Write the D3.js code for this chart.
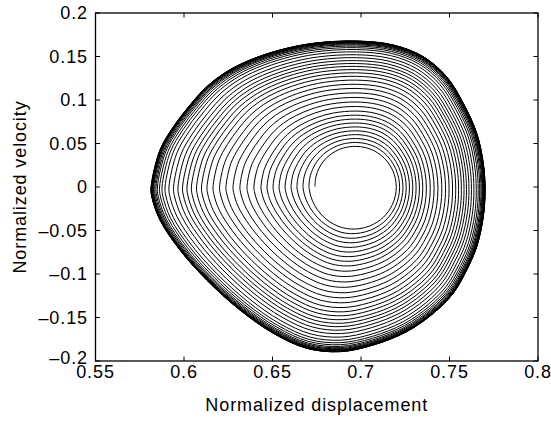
<!DOCTYPE html>
<html>
<head>
<meta charset="UTF-8">
<script src="https://d3js.org/d3.v7.min.js"></script>
<style>
  body { margin: 0; background: #fff; }
  svg text { font-family: "Liberation Sans", Arial, sans-serif; font-size: 18px; letter-spacing: 0.9px; fill: #000; }
</style>
</head>
<body>
<div id="chart"></div>
<script>
// axis ticks
const xTicks = [0.55, 0.6, 0.65, 0.7, 0.75, 0.8];
const xTickLabels = ["0.55", "0.6", "0.65", "0.7", "0.75", "0.8"];
const yTicks = [0.2, 0.15, 0.1, 0.05, 0, -0.05, -0.1, -0.15, -0.2];
const yTickLabels = ["0.2", "0.15", "0.1", "0.05", "0", "\u20130.05", "\u20130.1", "\u20130.15", "\u20130.2"];

// first (inner) turn of the trajectory: extents
const innerRingX = [0.674, 0.719];
const innerRingV = [-0.0445, 0.0455];

// outer limit cycle, read clockwise starting from the left-most point
const limitCycleX = [0.5814, 0.5864, 0.5940, 0.6034, 0.6128, 0.6241, 0.6373, 0.6542,
  0.6731, 0.6976, 0.7183, 0.7352, 0.7484, 0.7578, 0.7654, 0.7691,
  0.7701, 0.7691, 0.7654, 0.7597, 0.7521, 0.7409, 0.7258, 0.7070,
  0.6881, 0.6693, 0.6505, 0.6316, 0.6128, 0.5977, 0.5864, 0.5818];
const limitCycleV = [0.0000, 0.0425, 0.0693, 0.0943, 0.1153, 0.1326, 0.1460, 0.1575,
  0.1652, 0.1678, 0.1632, 0.1498, 0.1268, 0.0962, 0.0617, 0.0272,
  -0.0034, -0.0341, -0.0686, -0.0954, -0.1222, -0.1452, -0.1663, -0.1816,
  -0.1893, -0.1854, -0.1682, -0.1414, -0.1069, -0.0724, -0.0379, -0.0111];

// displacement where each turn crosses v = 0 on the left side
const leftCrossings = [0.6740, 0.6706, 0.6672, 0.6638, 0.6605, 0.6571, 0.6537, 0.6503,
  0.6469, 0.6435, 0.6395, 0.6356, 0.6316, 0.6277, 0.6237, 0.6201,
  0.6164, 0.6130, 0.6099, 0.6071, 0.6042, 0.6017, 0.5992, 0.5966,
  0.5941, 0.5915, 0.5893, 0.5876, 0.5862, 0.5850, 0.5842, 0.5835,
  0.5829, 0.5825, 0.5822, 0.5820, 0.5818, 0.5817, 0.5816, 0.5815,
  0.5814];

const fixedPoint = [0.6965, 0.0];

const W = 551, H = 421;
const x = d3.scaleLinear().domain([0.55, 0.8]).range([95.5, 538]);
const y = d3.scaleLinear().domain([-0.2, 0.2]).range([361, 13]);

const svg = d3.select("#chart").append("svg")
  .attr("width", W).attr("height", H);

// build trajectory in pixel space
const cx = x(fixedPoint[0]), cy = y(fixedPoint[1]);
const ex = (x(innerRingX[0]) + x(innerRingX[1])) / 2;
const ey = (y(innerRingV[0]) + y(innerRingV[1])) / 2;
const rx = (x(innerRingX[1]) - x(innerRingX[0])) / 2;
const ry = (y(innerRingV[0]) - y(innerRingV[1])) / 2;

const outer = limitCycleX.map((d, i) => [x(d), y(limitCycleV[i])]);
const inner = outer.map(p => {
  const a = Math.atan2(cy - p[1], p[0] - cx);
  return [ex + rx * Math.cos(a), ey - ry * Math.sin(a)];
});
const N = outer.length;
const L0 = leftCrossings[0], Lend = limitCycleX[0];
const w = leftCrossings.map(d => (L0 - d) / (L0 - Lend));

const pts = [];
for (let k = 0; k < w.length - 1; k++) {
  for (let i = 0; i < N; i++) {
    const t = w[k] + (i / N) * (w[k + 1] - w[k]);
    pts.push([inner[i][0] + t * (outer[i][0] - inner[i][0]),
              inner[i][1] + t * (outer[i][1] - inner[i][1])]);
  }
}
// final lap on the limit cycle
for (let i = 0; i <= N; i++) pts.push(outer[i % N]);

svg.append("path")
  .attr("d", d3.line().curve(d3.curveCatmullRom)(pts))
  .attr("fill", "none")
  .attr("stroke", "#000")
  .attr("stroke-width", 1);

// frame
svg.append("rect")
  .attr("x", x(0.55)).attr("y", y(0.2))
  .attr("width", x(0.8) - x(0.55)).attr("height", y(-0.2) - y(0.2))
  .attr("fill", "none").attr("stroke", "#000").attr("stroke-width", 1.3);

const tk = 4.5;
xTicks.forEach((d, i) => {
  svg.append("line").attr("x1", x(d)).attr("x2", x(d)).attr("y1", y(-0.2)).attr("y2", y(-0.2) - tk).attr("stroke", "#000");
  svg.append("line").attr("x1", x(d)).attr("x2", x(d)).attr("y1", y(0.2)).attr("y2", y(0.2) + tk).attr("stroke", "#000");
  svg.append("text").attr("x", x(d)).attr("y", 378).attr("text-anchor", "middle").text(xTickLabels[i]);
});
yTicks.forEach((d, i) => {
  svg.append("line").attr("x1", x(0.55)).attr("x2", x(0.55) + tk).attr("y1", y(d)).attr("y2", y(d)).attr("stroke", "#000");
  svg.append("line").attr("x1", x(0.8)).attr("x2", x(0.8) - tk).attr("y1", y(d)).attr("y2", y(d)).attr("stroke", "#000");
  svg.append("text").attr("x", 88).attr("y", y(d) - (d === -0.2 ? 3 : 0)).attr("dy", "0.35em").attr("text-anchor", "end").text(yTickLabels[i]);
});

svg.append("text").attr("x", (x(0.55) + x(0.8)) / 2).attr("y", 411)
  .attr("text-anchor", "middle").text("Normalized displacement");
svg.append("text").attr("transform", `translate(26,${y(0)}) rotate(-90)`)
  .attr("text-anchor", "middle").text("Normalized velocity");
</script>
</body>
</html>
